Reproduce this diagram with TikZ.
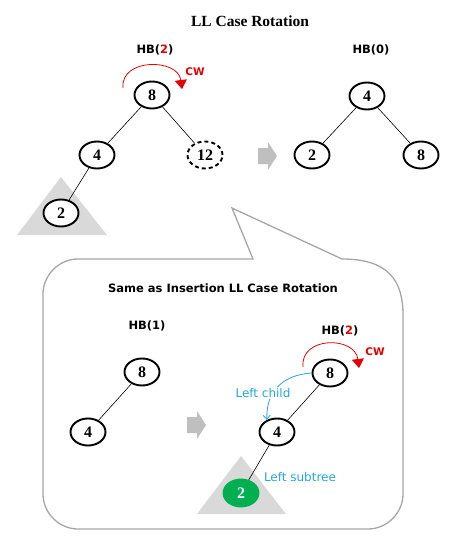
\documentclass[tikz,border=0pt]{standalone}
\usepackage{fontspec}
\setmainfont{Liberation Serif}
\setsansfont{DejaVu Sans}
\usetikzlibrary{shapes.geometric,arrows.meta}

\definecolor{cwred}{RGB}{230,0,0}
\definecolor{noteblue}{RGB}{35,168,224}
\definecolor{leafgreen}{RGB}{0,176,80}
\definecolor{treegray}{RGB}{217,217,217}
\definecolor{arrowgray}{RGB}{191,191,191}
\definecolor{calloutgray}{RGB}{166,166,166}

\tikzset{
  treenode/.style={ellipse, draw, line width=1.9pt, fill=white, minimum width=35pt, minimum height=27pt, inner sep=0pt, font=\fontsize{16}{16}\selectfont\bfseries},
  hblabel/.style={font=\sffamily\bfseries\fontsize{11.5}{12}\selectfont},
  cwlabel/.style={text=cwred, font=\sffamily\bfseries\fontsize{10.5}{11}\selectfont},
  notelabel/.style={text=noteblue, font=\sffamily\fontsize{12}{12}\selectfont},
  treeline/.style={line width=0.6pt},
  cwarrow/.style={cwred, line width=0.8pt, -{Triangle[width=12pt,length=9pt]}}
}

\begin{document}
\begin{tikzpicture}[x=1pt, y=-1pt]
    \useasboundingbox (0,0) rectangle (450,543);

    % Title
    \node[font=\fontsize{15.5}{16}\selectfont\bfseries] (title) at (250,21) {LL Case Rotation};

    % Draw the subtree triangles
    \fill[treegray] (61,177) -- (107,235) -- (17,235) -- cycle;
    \fill[treegray] (241,456) -- (286,514) -- (197,514) -- cycle;

    % Draw the gray arrows
    \foreach \ax/\ay in {258/156, 187/425} {
        \fill[arrowgray] (\ax,\ay-8) -- ++(10,0) -- ++(0,-6) -- ++(9,14) -- ++(-9,14) -- ++(0,-6) -- ++(-10,0) -- cycle;
    }

    % Draw the callout
    \draw[calloutgray, line width=1.3pt] (342,259) .. controls (388,259) and (403,280) .. (403,315)
        -- (403,494) .. controls (403,513) and (387,529) .. (368,529)
        -- (78,529) .. controls (59,529) and (43,513) .. (43,494)
        -- (43,294) .. controls (43,275) and (59,259) .. (78,259)
        -- (253,259) -- (232,208) -- cycle;

    % Tree before rotation
    \node[hblabel] (hbtop) at (155,50) {HB(\textcolor{cwred}{2})};
    \node[treenode] (t8) at (152,95) {8};
    \node[treenode] (t4) at (97,155) {4};
    \node[treenode, dash pattern=on 4pt off 3pt] (t12) at (205,155) {12};
    \node[treenode] (t2) at (61,213) {2};
    \draw[treeline] (t8) -- (t4);
    \draw[treeline] (t8) -- (t12);
    \draw[treeline] (t4) -- (t2);
    \draw[cwarrow] (123,88) .. controls (120,58) and (178,58) .. (182,89);
    \node[cwlabel] (cwtop) at (195,72) {CW};

    % Tree after rotation
    \node[hblabel] (hbzero) at (371,50) {HB(0)};
    \node[treenode] (r4) at (367,96) {4};
    \node[treenode] (r2) at (312,155) {2};
    \node[treenode] (r8) at (421,155) {8};
    \draw[treeline] (r4) -- (r2);
    \draw[treeline] (r4) -- (r8);

    % Inside the callout
    \node[hblabel] (same) at (223,288) {Same as Insertion LL Case Rotation};

    \node[hblabel] (hbone) at (147,326) {HB(1)};
    \node[treenode] (b8l) at (142,372) {8};
    \node[treenode] (b4l) at (88,432) {4};
    \draw[treeline] (b8l) -- (b4l);

    \node[hblabel] (hbbot) at (340,331) {HB(\textcolor{cwred}{2})};
    \node[treenode] (b8r) at (330,373) {8};
    \node[treenode] (b4r) at (277,432) {4};
    \node[treenode, fill=leafgreen, draw=leafgreen, text=white] (b2) at (241,493) {2};
    \draw[treeline] (b8r) -- (b4r);
    \draw[treeline] (b4r) -- (b2);
    \draw[cwarrow] (303,367) .. controls (300,336) and (355,336) .. (359,368);
    \node[cwlabel] (cwbot) at (375,352) {CW};

    \draw[noteblue, line width=0.8pt, -{Straight Barb[length=4pt,width=7pt]}] (b8r.west) .. controls (282,375) and (266,392) .. (b4r.130);
    \node[notelabel, fill=white, inner sep=1pt] (leftchild) at (263,393) {Left child};
    \node[notelabel] (leftsub) at (300,477) {Left subtree};
\end{tikzpicture}
\end{document}
